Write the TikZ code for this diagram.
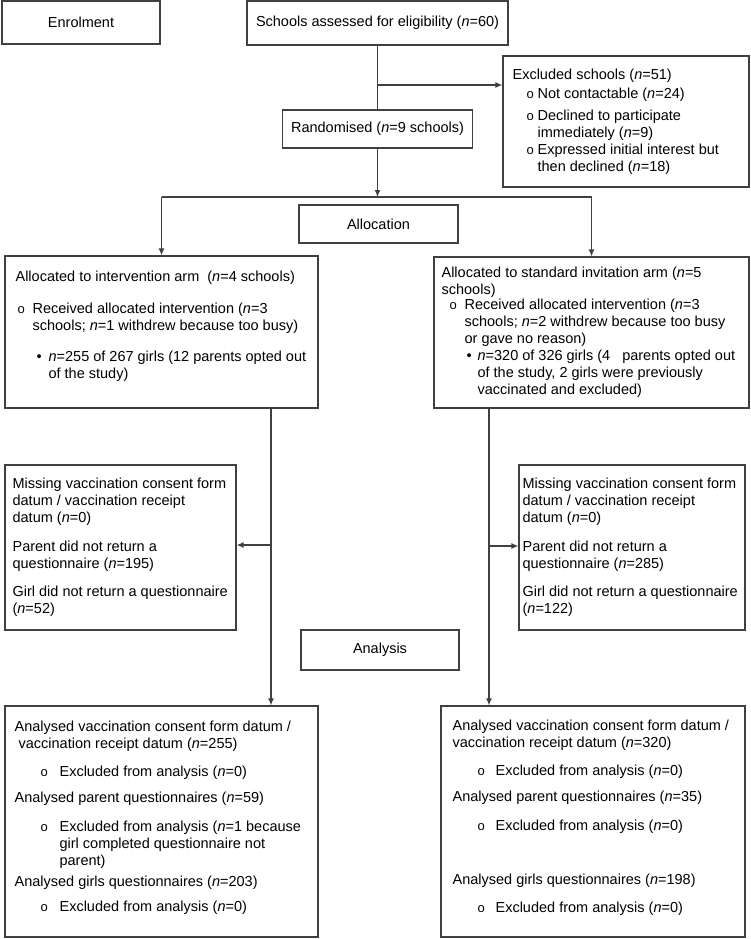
\documentclass[tikz,border=0pt]{standalone}
\usepackage{fontspec}
\setmainfont{Liberation Sans}
\usetikzlibrary{arrows.meta}

\newcommand\nv{\textit{n}}
\newcommand\ob{{\fontsize{13}{13}\selectfont o}}
\newcommand\mk[3]{\hspace*{#1}\makebox[#2][l]{#3}}

\begin{document}
\begin{tikzpicture}[x=1pt,y=-1pt,
    every node/.style={font=\fontsize{14.5}{17}\selectfont},
    frame/.style={draw=black!75,line width=1.2pt,inner sep=0pt},
    txt/.style={align=left,inner sep=0pt,anchor=west},
    link/.style={draw=black!75,line width=1.2pt},
    arr/.style={link,-{Latex[length=7pt,width=6pt]}}]
\useasboundingbox (0,0) rectangle (751,939);

% enrolment
\node[frame,minimum width=158pt,minimum height=43pt] (enrol) at (81,22.5) {Enrolment};
\node[frame,minimum width=261pt,minimum height=44pt] (assess) at (377.5,23) {Schools assessed for eligibility (\nv=60)};
\node[frame,minimum width=190pt,minimum height=38pt] (rand) at (377.5,129) {Randomised (\nv=9 schools)};
\node[frame,minimum width=246pt,minimum height=131pt] (excl) at (626,121.5) {};
\node[txt] (exclT) at ([xshift=10pt]excl.west) {Excluded schools (\nv=51)\\[2pt]
  \mk{14pt}{11pt}{\ob}Not contactable (\nv=24)\\[5pt]
  \mk{14pt}{11pt}{\ob}Declined to participate\\
  \hspace*{25pt}immediately (\nv=9)\\
  \mk{14pt}{11pt}{\ob}Expressed initial interest but\\
  \hspace*{25pt}then declined (\nv=18)};

% allocation
\node[frame,minimum width=159pt,minimum height=38pt] (alloc) at (378.5,224) {Allocation};
\node[frame,minimum width=313pt,minimum height=152pt] (intv) at (161.5,332) {};
\node[txt] (intvT) at ([xshift=11pt]intv.west) {Allocated to intervention arm\ \ (\nv=4 schools)\\[15pt]
  \mk{2pt}{15pt}{\ob}Received allocated intervention (\nv=3\\
  \hspace*{17pt}schools; \nv=1 withdrew because too busy)\\[14pt]
  \mk{21pt}{12pt}{\textbullet}\nv=255 of 267 girls (12 parents opted out\\
  \hspace*{33pt}of the study)\\[-3pt]\mbox{}};
\node[frame,minimum width=315pt,minimum height=151pt] (std) at (591.5,332.5) {};
\node[txt] (stdT) at ([xshift=8pt]std.west) {Allocated to standard invitation arm (\nv=5\\
  schools)\\[-2pt]
  \mk{8pt}{15pt}{\ob}Received allocated intervention (\nv=3\\
  \hspace*{23pt}schools; \nv=2 withdrew because too busy\\
  \hspace*{23pt}or gave no reason)\\
  \mk{25pt}{11pt}{\textbullet}\nv=320 of 326 girls (4\ \ \ parents opted out\\
  \hspace*{36pt}of the study, 2 girls were previously\\
  \hspace*{36pt}vaccinated and excluded)};

% follow-up
\node[frame,minimum width=231pt,minimum height=165pt] (missL) at (120.5,547.5) {};
\node[txt] (missLT) at ([xshift=8pt]missL.west) {Missing vaccination consent form\\
  datum / vaccination receipt\\
  datum (\nv=0)\\[12pt]
  Parent did not return a\\
  questionnaire (\nv=195)\\[11pt]
  Girl did not return a questionnaire\\
  (\nv=52)};
\node[frame,minimum width=226pt,minimum height=165pt] (missR) at (632,547.5) {};
\node[txt] (missRT) at ([xshift=4pt]missR.west) {Missing vaccination consent form\\
  datum / vaccination receipt\\
  datum (\nv=0)\\[12pt]
  Parent did not return a\\
  questionnaire (\nv=285)\\[11pt]
  Girl did not return a questionnaire\\
  (\nv=122)};

% analysis
\node[frame,minimum width=158pt,minimum height=40pt] (anal) at (380,650) {Analysis};
\node[frame,minimum width=313pt,minimum height=231pt] (resL) at (161.5,821.5) {};
\node[txt] (resLT) at ([xshift=10pt]resL.west) {Analysed vaccination consent form datum /\\
  \ vaccination receipt datum (\nv=255)\\[11pt]
  \mk{26pt}{19pt}{\ob}Excluded from analysis (\nv=0)\\[9pt]
  Analysed parent questionnaires (\nv=59)\\[12pt]
  \mk{26pt}{19pt}{\ob}Excluded from analysis (\nv=1 because\\
  \hspace*{45pt}girl completed questionnaire not\\
  \hspace*{45pt}parent)\\[4pt]
  Analysed girls questionnaires (\nv=203)\\[8pt]
  \mk{26pt}{19pt}{\ob}Excluded from analysis (\nv=0)\\[-6pt]\mbox{}};
\node[frame,minimum width=304pt,minimum height=231pt] (resR) at (593,821.5) {};
\node[txt] (resRT) at ([xshift=12pt]resR.west) {Analysed vaccination consent form datum /\\
  vaccination receipt datum (\nv=320)\\[11pt]
  \mk{25pt}{18pt}{\ob}Excluded from analysis (\nv=0)\\[9pt]
  Analysed parent questionnaires (\nv=35)\\[12pt]
  \mk{25pt}{18pt}{\ob}Excluded from analysis (\nv=0)\\[37pt]
  Analysed girls questionnaires (\nv=198)\\[11pt]
  \mk{25pt}{18pt}{\ob}Excluded from analysis (\nv=0)\\[-6pt]\mbox{}};

% connectors
\coordinate (br) at (377.5,85);
\coordinate (jn) at (377.5,197);
\coordinate (lc) at (271,545);
\coordinate (rc) at (489,546);
\draw[link] (assess.south) -- (rand.north);
\draw[arr] (br) -- (br -| excl.west);
\draw[arr] (rand.south) -- (jn);
\draw[link] (jn -| intv.north) -- (jn -| std.north);
\draw[arr] (jn -| intv.north) -- (intv.north);
\draw[arr] (jn -| std.north) -- (std.north);
\draw[arr] (intv.south -| lc) -- (resL.north -| lc);
\draw[arr] (lc) -- (lc -| missL.east);
\draw[arr] (std.south -| rc) -- (resR.north -| rc);
\draw[arr] (rc) -- (rc -| missR.west);
\end{tikzpicture}
\end{document}
